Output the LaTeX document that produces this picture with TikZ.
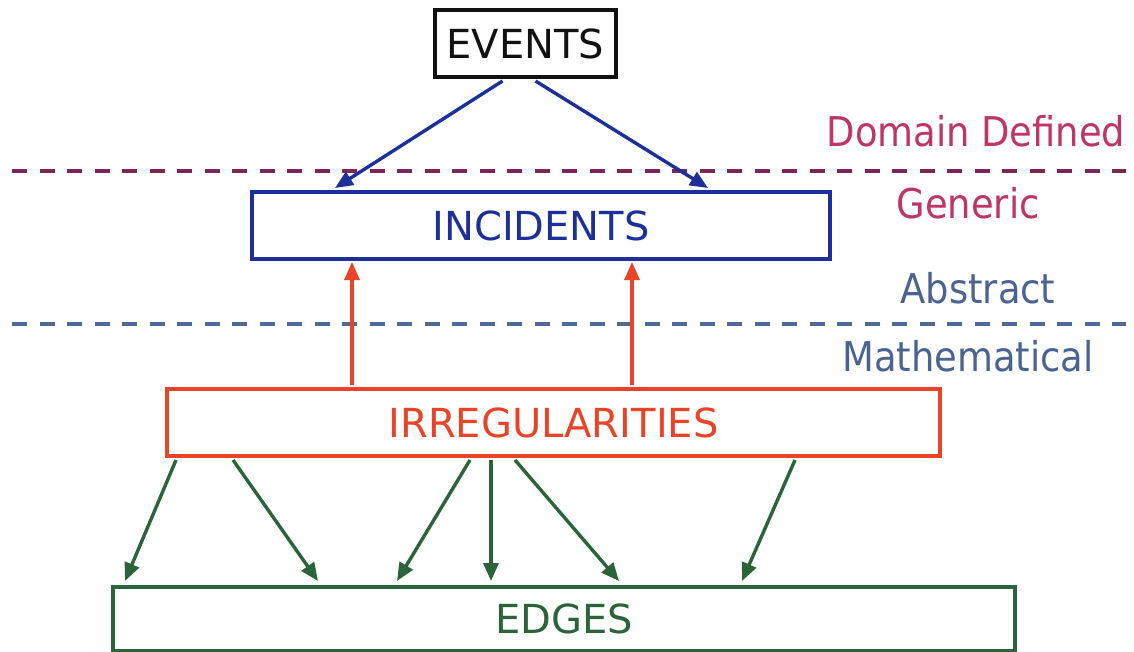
\documentclass[tikz,border=0pt]{standalone}
\usepackage{fontspec}
\setmainfont{DejaVu Sans}
\newfontfamily\labelfont{DejaVu Sans Condensed}
\usetikzlibrary{arrows.meta}
\definecolor{evblack}{HTML}{111111}
\definecolor{incblue}{HTML}{1C2F9A}
\definecolor{irrred}{HTML}{EA4428}
\definecolor{edggreen}{HTML}{2B633A}
\definecolor{domline}{HTML}{7E2457}
\definecolor{domtext}{HTML}{BE3566}
\definecolor{absline}{HTML}{4F6B95}
\definecolor{abstext}{HTML}{4A6390}
\tikzset{
  levelbox/.style={draw, line width=4pt, inner sep=0pt, anchor=north west, font=\fontsize{40}{40}\selectfont},
  levellabel/.style={font=\labelfont\fontsize{41}{41}\selectfont, inner sep=0pt},
  sepline/.style={line width=4pt, dash pattern=on 15pt off 12.5pt},
  linktip/.style={-{Triangle[length=18pt,width=15pt]}, line width=3.4pt},
}
\begin{document}
\begin{tikzpicture}[x=1pt,y=-1pt]
\useasboundingbox (0,0) rectangle (1134,651);
% separators between the levels
\coordinate (d1) at (12,171);
\coordinate (d2) at (1126,171);
\coordinate (a1) at (12,324);
\coordinate (a2) at (1126,324);
\draw[sepline, domline] (d1) -- (d2);
\draw[sepline, absline] (a1) -- (a2);
% level names
\node[levellabel, text=domtext] (ldom) at (976,131) {Domain Defined};
\node[levellabel, text=domtext] (lgen) at (968,203) {Generic};
\node[levellabel, text=abstext] (labs) at (978,288) {Abstract};
\node[levellabel, text=abstext] (lmat) at (968,356) {Mathematical};
% boxes
\node[levelbox, draw=evblack, text=evblack, minimum width=181pt, minimum height=67pt] (ev) at (433,8) {EVENTS};
\node[levelbox, draw=incblue, text=incblue, minimum width=578pt, minimum height=67pt] (inc) at (250,190) {INCIDENTS};
\node[levelbox, draw=irrred, text=irrred, minimum width=773pt, minimum height=67pt] (irr) at (165,387) {IRREGULARITIES};
\node[levelbox, draw=edggreen, text=edggreen, minimum width=902pt, minimum height=64pt] (edg) at (111,585) {EDGES};
% events to incidents
\draw[linktip, incblue] ([xshift=-23pt,yshift=-2pt]ev.south) -- ([xshift=-206pt,yshift=2pt]inc.north);
\draw[linktip, incblue] ([xshift=10pt,yshift=-2pt]ev.south) -- ([xshift=167pt,yshift=2pt]inc.north);
% irregularities to incidents
\draw[linktip, irrred] (352,385) -- (352,262);
\draw[linktip, irrred] (632,385) -- (632,262);
% irregularities to edges
\draw[linktip, edggreen] ([xshift=11pt,yshift=-2pt]irr.south west) -- ([xshift=14pt,yshift=4pt]edg.north west);
\draw[linktip, edggreen] ([xshift=68pt,yshift=-2pt]irr.south west) -- ([xshift=207pt,yshift=4pt]edg.north west);
\draw[linktip, edggreen] ([xshift=305pt,yshift=-2pt]irr.south west) -- ([xshift=286pt,yshift=4pt]edg.north west);
\draw[linktip, edggreen] ([xshift=326pt,yshift=-2pt]irr.south west) -- ([xshift=380pt,yshift=4pt]edg.north west);
\draw[linktip, edggreen] ([xshift=350pt,yshift=-2pt]irr.south west) -- ([xshift=508pt,yshift=4pt]edg.north west);
\draw[linktip, edggreen] ([xshift=630pt,yshift=-2pt]irr.south west) -- ([xshift=631pt,yshift=4pt]edg.north west);
\end{tikzpicture}
\end{document}
